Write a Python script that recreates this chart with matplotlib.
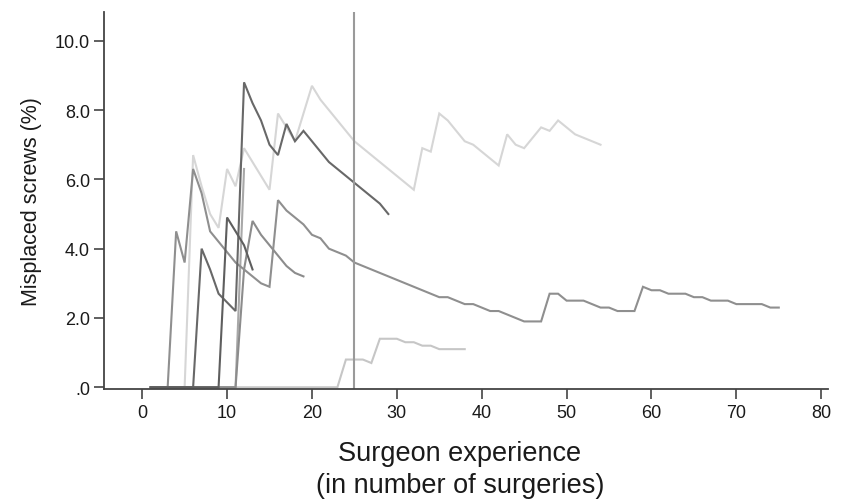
import numpy as np
import matplotlib
matplotlib.use("Agg")
import matplotlib.pyplot as plt

plt.rcParams['font.family'] = ['Liberation Sans', 'DejaVu Sans']

# Surgeon series (x = surgery number starting at 1)
surgeon_a = [0, 0, 0, 0, 0, 6.7, 5.8, 5.0, 4.6, 6.3, 5.8, 6.9, 6.5, 6.1, 5.7, 7.9, 7.5, 7.1, 7.9, 8.7,
             8.3, 8.0, 7.7, 7.4, 7.1, 6.9, 6.7, 6.5, 6.3, 6.1, 5.9, 5.7, 6.9, 6.8, 7.9, 7.7, 7.4, 7.1,
             7.0, 6.8, 6.6, 6.4, 7.3, 7.0, 6.9, 7.2, 7.5, 7.4, 7.7, 7.5, 7.3, 7.2, 7.1, 7.0]
surgeon_b = [0, 0, 0, 4.5, 3.6, 6.3, 5.6, 4.5, 4.2, 3.9, 3.6, 3.4, 3.2, 3.0, 2.9, 5.4, 5.1, 4.9, 4.7,
             4.4, 4.3, 4.0, 3.9, 3.8, 3.6, 3.5, 3.4, 3.3, 3.2, 3.1, 3.0, 2.9, 2.8, 2.7, 2.6, 2.6, 2.5,
             2.4, 2.4, 2.3, 2.2, 2.2, 2.1, 2.0, 1.9, 1.9, 1.9, 2.7, 2.7, 2.5, 2.5, 2.5, 2.4, 2.3, 2.3,
             2.2, 2.2, 2.2, 2.9, 2.8, 2.8, 2.7, 2.7, 2.7, 2.6, 2.6, 2.5, 2.5, 2.5, 2.4, 2.4, 2.4, 2.4,
             2.3, 2.3]
surgeon_c = [0, 0, 0, 0, 0, 0, 4.0, 3.4, 2.7, 2.45, 2.2, 8.8, 8.2, 7.7, 7.0, 6.7, 7.6, 7.1, 7.4, 7.1,
             6.8, 6.5, 6.3, 6.1, 5.9, 5.7, 5.5, 5.3, 5.0]
surgeon_d = [0, 0, 0, 0, 0, 0, 0, 0, 0, 4.9, 4.5, 4.1, 3.4]
surgeon_e = [0, 0, 0, 0, 0, 0, 0, 0, 0, 0, 0, 3.4, 4.8, 4.4, 4.1, 3.8, 3.5, 3.3, 3.2]
surgeon_f = [0, 0, 0, 0, 0, 0, 0, 0, 0, 0, 0, 6.3]
surgeon_g = [0] * 23 + [0.8, 0.8, 0.8, 0.7, 1.4, 1.4, 1.4, 1.3, 1.3, 1.2, 1.2, 1.1, 1.1, 1.1, 1.1]

series = [surgeon_g, surgeon_a, surgeon_f, surgeon_e, surgeon_b, surgeon_c, surgeon_d]
colors = ['#c6c6c6', '#d6d6d6', '#a8a8a8', '#8c8c8c', '#8f8f8f', '#686868', '#5e5e5e']

reference_x = 25
x_ticks = [0, 10, 20, 30, 40, 50, 60, 70, 80]
y_ticks = [0, 2, 4, 6, 8, 10]
y_ticklabels = ['.0', '2.0', '4.0', '6.0', '8.0', '10.0']

fig = plt.figure(figsize=(8.5, 5.02), dpi=100)
ax = fig.add_axes([104 / 850, 1 - 390 / 502, (828 - 104) / 850, (390 - 13) / 502])

for ys, c in zip(series, colors):
    xs = np.arange(1, len(ys) + 1)
    ax.plot(xs, ys, color=c, lw=1.5, solid_joinstyle='miter')

ax.axvline(reference_x, color='#9a9a9a', lw=1.5)

ax.set_xlim(-4.5, 80.8)
ax.set_ylim(-0.05, 10.83)
ax.set_xticks(x_ticks)
ax.set_xticklabels([str(v) for v in x_ticks])
ax.set_yticks(y_ticks)
ax.set_yticklabels(y_ticklabels)

for s in ['top', 'right']:
    ax.spines[s].set_visible(False)
for s in ['left', 'bottom']:
    ax.spines[s].set_color('#444444')
    ax.spines[s].set_linewidth(1.3)
ax.tick_params(axis='both', direction='out', length=7, width=1.2, color='#444444',
               labelsize=13, labelcolor='#1a1a1a', pad=3)
ax.tick_params(axis='x', pad=4)

ax.set_ylabel('Misplaced screws (%)', fontsize=15.5, color='#1a1a1a', labelpad=9)
fig.text(460 / 850, 1 - 470 / 502, 'Surgeon experience\n(in number of surgeries)',
         fontsize=19.5, color='#1a1a1a', ha='center', va='center', linespacing=1.28)

fig.savefig('out.png', dpi=100)
